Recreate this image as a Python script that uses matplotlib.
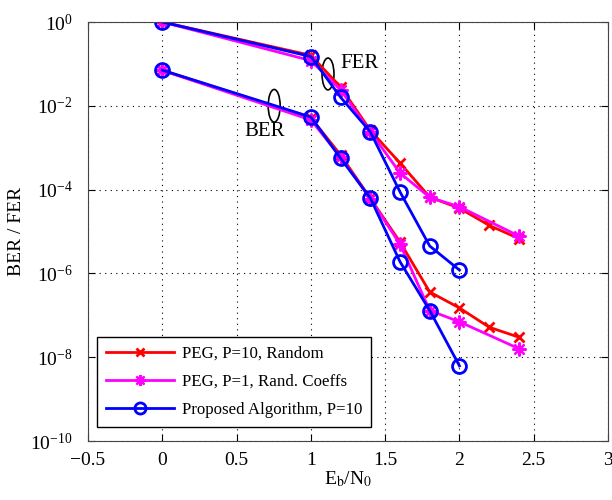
import matplotlib.pyplot as plt
from matplotlib.patches import Ellipse
import numpy as np

plt.rcParams['font.family'] = ['Liberation Serif', 'DejaVu Serif']
plt.rcParams['mathtext.fontset'] = 'stix'

# Eb/N0 points
snr_red = [0, 1, 1.2, 1.4, 1.6, 1.8, 2.0, 2.2, 2.4]
snr_mag = [0, 1, 1.2, 1.4, 1.6, 1.8, 2.0, 2.4]
snr_blue = [0, 1, 1.2, 1.4, 1.6, 1.8, 2.0]

# FER curves
fer_red = [1.0, 0.16, 0.028, 2.6e-3, 4.3e-4, 6.6e-5, 3.6e-5, 1.4e-5, 6.8e-6]
fer_mag = [1.0, 0.12, 0.024, 2.4e-3, 2.5e-4, 6.5e-5, 3.9e-5, 7.8e-6]
fer_blue = [1.0, 0.15, 0.016, 2.4e-3, 8.8e-5, 4.5e-6, 1.2e-6]

# BER curves
ber_red = [0.07, 5.2e-3, 6.7e-4, 6.2e-5, 5.6e-6, 3.6e-7, 1.5e-7, 5.2e-8, 3.0e-8]
ber_mag = [0.07, 4.6e-3, 6.0e-4, 6.0e-5, 5.0e-6, 1.3e-7, 7.0e-8, 1.6e-8]
ber_blue = [0.071, 5.4e-3, 5.6e-4, 6.3e-5, 1.9e-6, 1.3e-7, 6.2e-9]

labels = ["PEG, P=10, Random", "PEG, P=1, Rand. Coeffs", "Proposed Algorithm, P=10"]

fig = plt.figure(figsize=(6.12, 5.0), dpi=100)
ax = fig.add_axes([0.1438, 0.118, 0.8497, 0.838])

red_kw = dict(color="red", marker="x", markersize=7, markeredgewidth=2, linewidth=2)
mag_kw = dict(color="magenta", marker=(8, 2, 0), markersize=10, markeredgewidth=1.6,
              linewidth=2)
blue_kw = dict(color="blue", marker="o", markersize=10, markerfacecolor="none",
               markeredgewidth=2, linewidth=2)

ax.semilogy(snr_red, fer_red, label=labels[0], **red_kw)
ax.semilogy(snr_mag, fer_mag, label=labels[1], **mag_kw)
ax.semilogy(snr_blue, fer_blue, label=labels[2], **blue_kw)
ax.semilogy(snr_red, ber_red, **red_kw)
ax.semilogy(snr_mag, ber_mag, **mag_kw)
ax.semilogy(snr_blue, ber_blue, **blue_kw)

ax.set_xlim(-0.5, 3)
ax.set_ylim(1e-10, 1e0)
ax.set_xticks(np.arange(-0.5, 3.01, 0.5))
ax.set_xticklabels(["\u22120.5", "0", "0.5", "1", "1.5", "2", "2.5", "3"])
ax.set_yticks([10.0 ** k for k in range(-10, 1, 2)])
ax.yaxis.set_minor_locator(plt.NullLocator())
ax.tick_params(direction="in", top=True, right=True, labelsize=14, length=5)
ax.tick_params(axis="y", pad=11)
ax.tick_params(axis="x", pad=8)
ax.grid(True, linestyle=(0, (1, 4)), color="black", linewidth=0.8)
for s in ax.spines.values():
    s.set_color("#444444")

ax.set_xlabel("E$_\\mathrm{b}$/N$_\\mathrm{0}$", fontsize=14, labelpad=0)
ax.set_ylabel("BER / FER", fontsize=14, labelpad=4)

# ellipse annotations
ax.add_patch(Ellipse((0.4615, 0.876), 0.023, 0.076, transform=ax.transAxes,
                     fill=False, edgecolor="black", linewidth=1.2))
ax.add_patch(Ellipse((0.358, 0.80), 0.023, 0.078, transform=ax.transAxes,
                     fill=False, edgecolor="black", linewidth=1.2))
ax.text(1.33, 0.105, "FER", fontsize=15, ha="center", va="center")
ax.text(0.69, 2.4e-3, "BER", fontsize=15, ha="center", va="center")

leg = ax.legend(loc="lower left", bbox_to_anchor=(0.017, 0.033), borderaxespad=0,
                fontsize=12.2, fancybox=False, framealpha=1, edgecolor="black",
                handlelength=4.0, labelspacing=0.7, markerscale=0.8,
                borderpad=0.55, handletextpad=0.45)
leg.get_frame().set_linewidth(1.0)

fig.savefig("out.png", dpi=100)
